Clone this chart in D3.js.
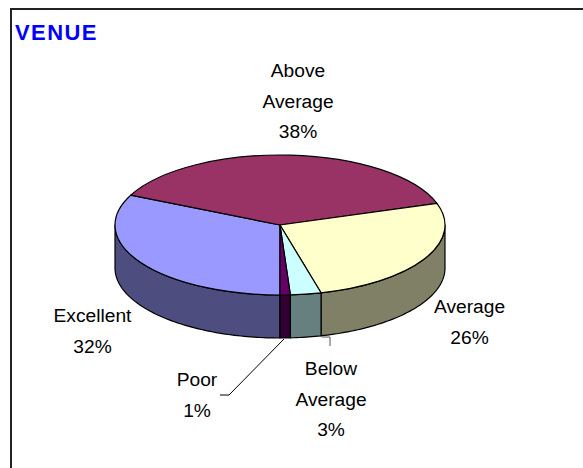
<!DOCTYPE html>
<html><head><meta charset="utf-8">
<script src="https://cdn.jsdelivr.net/npm/d3@7"></script>
<style>html,body{margin:0;padding:0;background:#fff}svg{display:block}</style>
</head><body><div id="c"></div>
<script>
const categories = ["Excellent","Above Average","Average","Below Average","Poor"];
const values = [32,38,26,3,1];
const topColors = ["#9999FF","#993366","#FFFFCC","#CCFFFF","#660066"];
const sideColors = ["#4D4D80","#993366","#808066","#668080","#330033"];
const labelLines = [["Excellent","32%"],["Above","Average","38%"],["Average","26%"],["Below","Average","3%"],["Poor","1%"]];
const labelPos = [[92.5,316],[298,71],[469.5,307],[331,369],[197,380]];
const W=583,H=468,cx=280,cy=225,rx=165,ry=70,depth=43;
const svg=d3.select("#c").append("svg").attr("width",W).attr("height",H);
svg.append("path").attr("d",`M11,${H} V9 H${W}`).attr("fill","none").attr("stroke","#222").attr("stroke-width",2);
svg.append("text").attr("x",15).attr("y",40).text("VENUE").attr("fill","#0000FF").attr("font-family","Liberation Sans, Arial, sans-serif").attr("font-weight",700).attr("font-size",22).attr("letter-spacing",1.4);
const pie=d3.pie().sort(null).value((d,i)=>values[i]).startAngle(Math.PI).endAngle(3*Math.PI);
const arcs=pie(categories);
const px=a=>cx+rx*Math.sin(a), py=a=>cy-ry*Math.cos(a);
const line=d3.line();
function sidePath(a0,a1){
  const n=Math.max(2,Math.ceil((a1-a0)/0.02));
  const ts=d3.range(n+1).map(i=>a0+(a1-a0)*i/n);
  const upper=ts.map(t=>[px(t),py(t)]);
  const lower=ts.slice().reverse().map(t=>[px(t),py(t)+depth]);
  return line(upper.concat(lower))+"Z";
}
const front=[[Math.PI/2,3*Math.PI/2],[5*Math.PI/2,7*Math.PI/2]];
const g=svg.append("g").attr("stroke","#000").attr("stroke-width",1.2).attr("stroke-linejoin","round");
arcs.forEach((d,i)=>{
  front.forEach(([f0,f1])=>{
    const a0=Math.max(d.startAngle,f0),a1=Math.min(d.endAngle,f1);
    if(a1>a0) g.append("path").attr("d",sidePath(a0,a1)).attr("fill",sideColors[i]);
  });
});
const arc=d3.arc().innerRadius(0).outerRadius(rx);
const tops=g.append("g").attr("transform",`translate(${cx},${cy}) scale(1,${ry/rx})`);
tops.selectAll("path").data(arcs).join("path").attr("d",arc).attr("fill",(d,i)=>topColors[i]).attr("vector-effect","non-scaling-stroke");
// leader lines
svg.append("path").attr("d","M284,339 L229,395 H220").attr("fill","none").attr("stroke","#000").attr("stroke-width",1);
svg.append("path").attr("d","M322,337 H330 V346").attr("fill","none").attr("stroke","#555").attr("stroke-width",1);
const lh=30.5;
labelLines.forEach((ls,i)=>{
  ls.forEach((s,j)=>{
    svg.append("text").attr("x",labelPos[i][0]).attr("y",labelPos[i][1]+j*lh+6).attr("text-anchor","middle").attr("font-family","Liberation Sans, Arial, sans-serif").attr("font-size",19.2).attr("fill","#000").text(s);
  });
});
</script></body></html>
